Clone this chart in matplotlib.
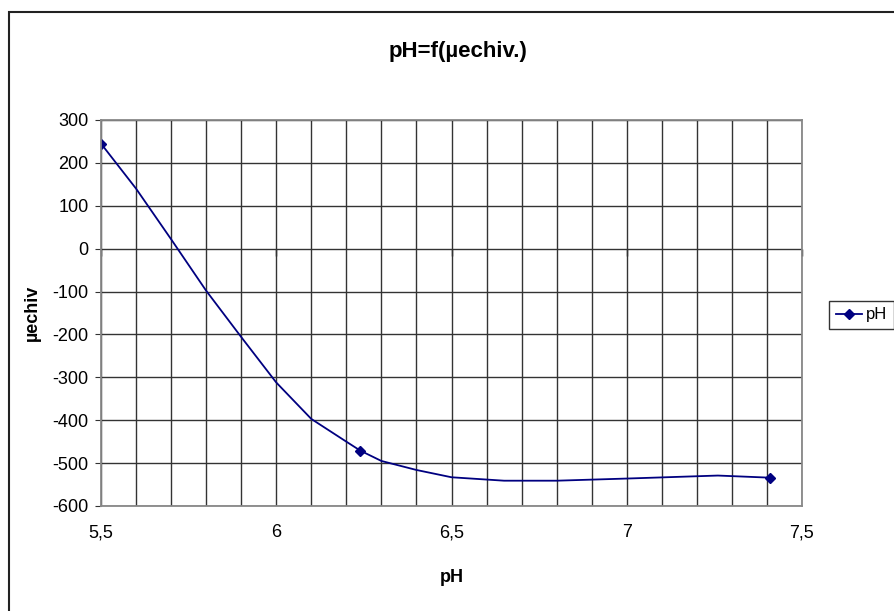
import matplotlib
matplotlib.use("Agg")
import matplotlib.pyplot as plt
from matplotlib.patches import Rectangle
from matplotlib.ticker import MultipleLocator, FuncFormatter

plt.rcParams['font.family'] = ['Liberation Sans Narrow', 'Liberation Sans', 'DejaVu Sans']
plt.rcParams['axes.unicode_minus'] = False

## donnees
ph = [5.5, 5.6, 5.7, 5.8, 5.9, 6.0, 6.1, 6.2, 6.24, 6.3, 6.4, 6.5, 6.65, 6.8, 7.0, 7.26, 7.41]
mu = [245, 140, 22, -98, -206, -312, -397, -450, -471, -495, -516, -533, -541, -541, -536, -529, -534]
marqueurs = [0, 8, 16]  # points affiches avec un losange

titre = "pH=f(µechiv.)"
nom_serie = "pH"
navy = "#000080"

fig = plt.figure(figsize=(8.95, 6.11), dpi=100)
ax = fig.add_axes([101/895, 1 - 506/611, 701/895, 386/611])

# cadre de la zone de graphique
fig.patches.append(Rectangle((8.5/895, -0.1), 1.2, 1.1 - 12/611, transform=fig.transFigure,
                             fill=False, edgecolor="#222222", lw=1.5, clip_on=False))

ax.plot(ph, mu, color=navy, lw=1.3, marker="D", ms=5.5, markevery=marqueurs,
        markerfacecolor=navy, markeredgecolor=navy, label=nom_serie)

ax.set_xlim(5.5, 7.5)
ax.set_ylim(-600, 300)
ax.xaxis.set_major_locator(MultipleLocator(0.5))
ax.xaxis.set_minor_locator(MultipleLocator(0.1))
ax.yaxis.set_major_locator(MultipleLocator(100))
ax.xaxis.set_major_formatter(FuncFormatter(lambda v, p: ("%g" % v).replace(".", ",")))

ax.grid(True, which="both", axis="x", color="#333333", lw=1)
ax.grid(True, which="major", axis="y", color="#333333", lw=1)
ax.set_axisbelow(True)
for s in ax.spines.values():
        s.set_color("#888888")
        s.set_linewidth(1.3)

ax.tick_params(axis="x", which="both", length=0, pad=13, labelsize=13)
ax.tick_params(axis="y", length=4, direction="out", color="#333333", pad=5, labelsize=13)

# axe des abscisses qui coupe en y=0
ax0 = ax.secondary_xaxis(2/3)
ax0.set_xticks([5.5, 6.0, 6.5, 7.0, 7.5])
ax0.xaxis.set_ticks_position("bottom")
ax0.xaxis.set_tick_params(which="major", bottom=True, top=False, direction="out",
                          length=5, width=1, color="black", labelbottom=False, labeltop=False)
ax0.spines["bottom"].set_color("black")
ax0.spines["bottom"].set_linewidth(1.2)
ax0.spines["top"].set_visible(False)

ax.set_xlabel("pH", fontsize=13, fontweight="bold", labelpad=20)
ax.set_ylabel("µechiv", fontsize=13, fontweight="bold", labelpad=8)
fig.text(458/895, 1 - 52/611, titre, fontsize=16, fontweight="bold", ha="center", va="center")

leg = fig.legend(loc="center left", bbox_to_anchor=(829/895, 1 - 315/611), fontsize=12,
                 frameon=True, fancybox=False, handlelength=1.6, borderpad=0.4,
                 handletextpad=0.2, borderaxespad=0)
leg.get_frame().set_edgecolor("black")
leg.get_frame().set_linewidth(1)

fig.savefig("out.png", dpi=100)
